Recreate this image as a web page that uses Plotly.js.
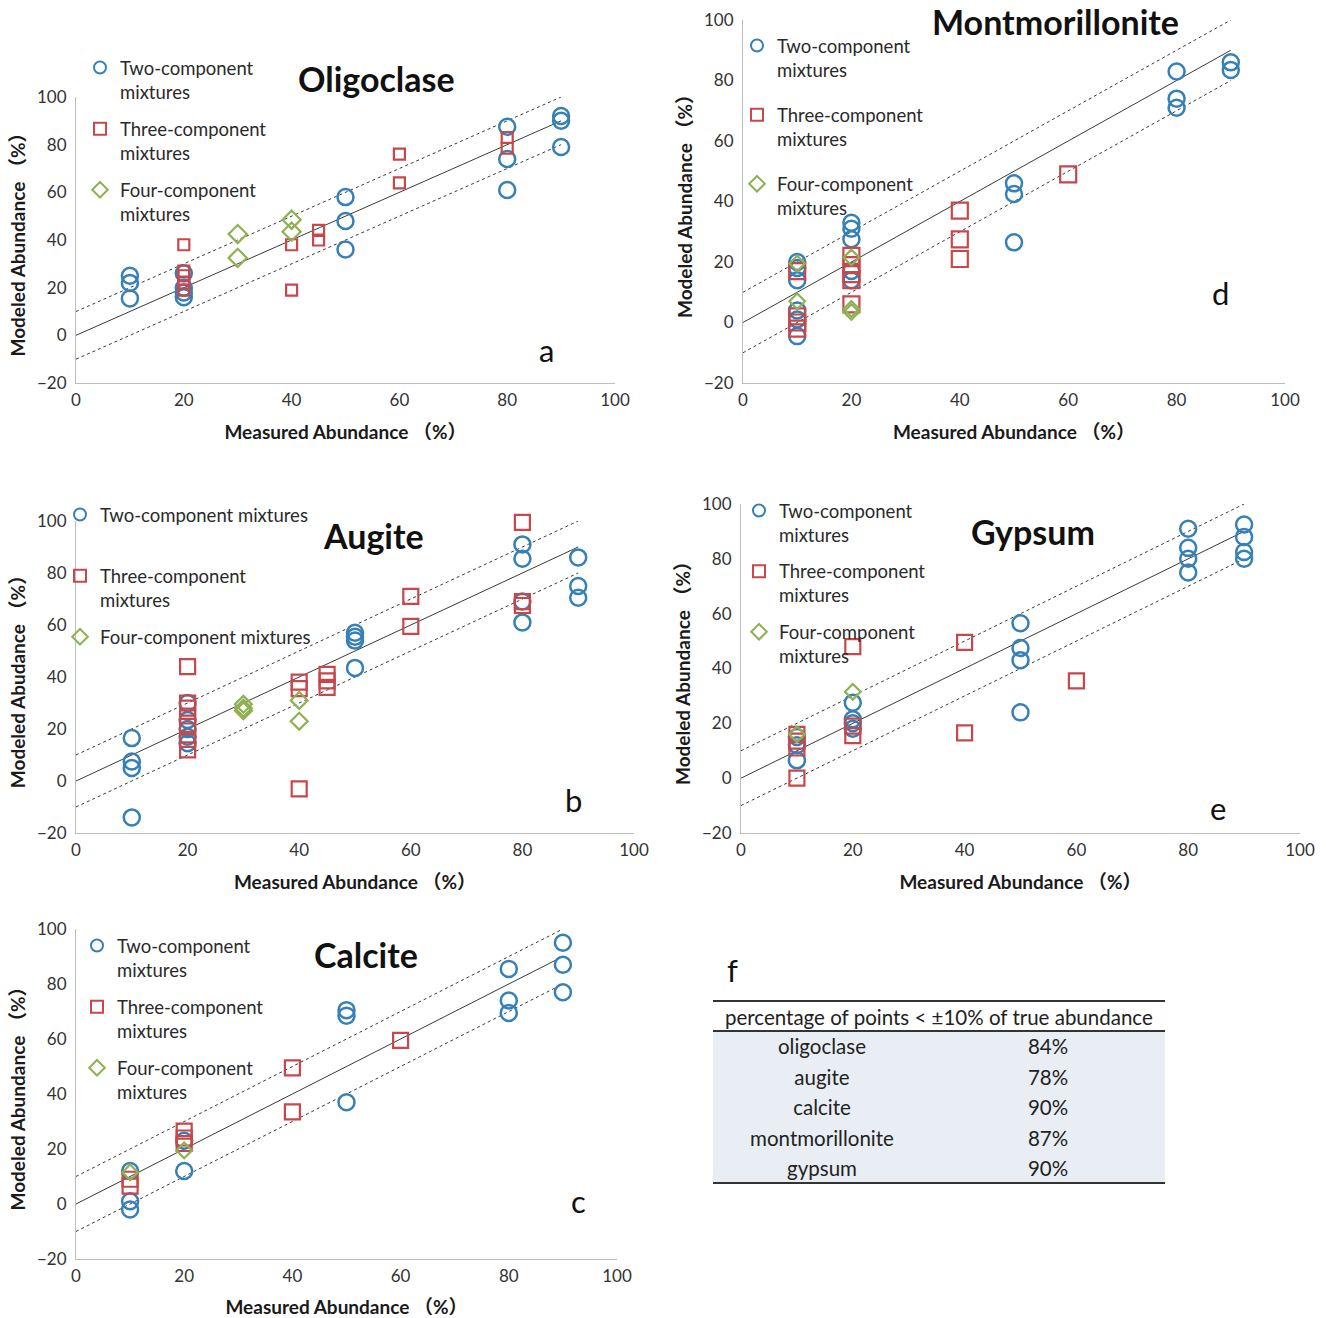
<!DOCTYPE html>
<html><head><meta charset="utf-8">
<script src="https://cdn.plot.ly/plotly-3.0.1.min.js"></script>
<style>body{margin:0;background:#fff}</style>
</head><body><div id="chart" style="width:1326px;height:1318px"></div>
<script>
// ---------------- DATA ----------------
// Oligoclase (a)
const oligoTwoX   = [10,10,10,20,20,20,20,50,50,50,80,80,80,90,90,90];
const oligoTwoY   = [25,22,15.5,26,20,18,16,58,48,36,87.5,74,61,92,90,79];
const oligoThreeX = [20,20,20,20,20,40,40,45,45,60,60,80,80];
const oligoThreeY = [38,27,25,22,19,38,19,44,40,76,64,83,78.5];
const oligoFourX  = [30,30,40,40];
const oligoFourY  = [42.5,32.5,48.5,43.5];
// Montmorillonite (d)
const montTwoX   = [10,10,10,10,10,10,20,20,20,20,20,50,50,50,80,80,80,90,90];
const montTwoY   = [20,18,14,4,1,-4.5,33,31,27.5,17,14,46,42.5,26.5,83,74,71,86,83.5];
const montThreeX = [10,10,10,10,20,20,20,20,20,40,40,40,60];
const montThreeY = [17,2,0,-2,22,19,16,14,6,37,27.5,21,49];
const montFourX  = [10,10,20,20,20];
const montFourY  = [19.5,7,21.5,4.5,3.5];
// Augite (b)
const augTwoX   = [10,10,10,10,20,20,20,20,20,50,50,50,50,80,80,80,80,90,90,90];
const augTwoY   = [16.5,7.5,5,-14,30,23.5,20,17,14.5,57,55.5,54,43.5,91,85.5,69,61,86,75,70.5];
const augThreeX = [20,20,20,20,20,20,20,40,40,40,45,45,45,60,60,80,80,80];
const augThreeY = [44,30,28,25,21,16,12,38,35.5,-3,41,38.5,36,71,59.5,99.5,69,67.5];
const augFourX  = [30,30,30,40,40];
const augFourY  = [29.5,28,27,31,23];
// Gypsum (e)
const gypTwoX   = [10,10,10,20,20,20,20,50,50,50,50,80,80,80,80,90,90,90,90];
const gypTwoY   = [15,12,6.5,27.5,21.5,20,18,56.5,47.5,43,24,91,84,80,75,92.5,88,82.5,80];
const gypThreeX = [10,10,10,10,20,20,20,40,40,60];
const gypThreeY = [16,13.5,11,0,48,19,15.5,49.5,16.5,35.5];
const gypFourX  = [10,20];
const gypFourY  = [16,31.5];
// Calcite (c)
const calTwoX   = [10,10,10,20,20,50,50,50,80,80,80,90,90,90];
const calTwoY   = [12,1,-2,23,12,70.5,68.5,37,85.5,74,69.5,95,87,77];
const calThreeX = [10,10,20,20,20,40,40,60];
const calThreeY = [9,6.5,26.5,24,22,49.5,33.5,59.5];
const calFourX  = [10,20];
const calFourY  = [11.5,19.5];
// 1:1 line and ±10% band
const refLineX = [0, 90];
const bandOffsets = [0, 10, -10];
// axis ticks
const xTicks = [0,20,40,60,80,100];
const yTicks = [-20,0,20,40,60,80,100];
// table f
const tableTitle = 'percentage of points < ±10% of true abundance';
const minerals = ['oligoclase','augite','calcite','montmorillonite','gypsum'];
const percents = ['84%','78%','90%','87%','90%'];

// ---------------- LAYOUT ----------------
const W = 1326, H = 1318;
const px = v => v / W;
const py = v => 1 - v / H;
const FONT = 'Lato, "Noto Sans CJK SC", sans-serif';
const BLUE = '#3580b8', RED = '#c8474b', GREEN = '#8fb153';

const wrapped = ['Two-component<br>mixtures','Three-component<br>mixtures','Four-component<br>mixtures'];
const panels = [
  {name:'Oligoclase', letter:'a', box:[76,615,97,383], ytitle:'Modeled Abundance （%）',
   data:[[oligoTwoX,oligoTwoY],[oligoThreeX,oligoThreeY],[oligoFourX,oligoFourY]],
   names:wrapped, sq:11, dm:14, title:[376,78], let:[546,350], leg:[120,68], gap:10},
  {name:'Montmorillonite', letter:'d', box:[743,1285,20,383], ytitle:'Modeled Abundance （%）',
   data:[[montTwoX,montTwoY],[montThreeX,montThreeY],[montFourX,montFourY]],
   names:wrapped, sq:16, dm:12, title:[1055,22], let:[1220,293], leg:[777,46], gap:18},
  {name:'Augite', letter:'b', box:[76,634,521,833], ytitle:'Modeled Abudance （%）',
   data:[[augTwoX,augTwoY],[augThreeX,augThreeY],[augFourX,augFourY]],
   names:['Two-component mixtures<br> ','Three-component<br>mixtures','Four-component mixtures'],
   sq:15, dm:13, title:[373,535], let:[573,800], leg:[100,515], gap:10},
  {name:'Gypsum', letter:'e', box:[741,1300,504,833], ytitle:'Modeled Abundance （%）',
   data:[[gypTwoX,gypTwoY],[gypThreeX,gypThreeY],[gypFourX,gypFourY]],
   names:wrapped, sq:15, dm:12, title:[1033,531], let:[1218,808], leg:[779,511], gap:9.5},
  {name:'Calcite', letter:'c', box:[76,617,929,1259], ytitle:'Modeled Abundance （%）',
   data:[[calTwoX,calTwoY],[calThreeX,calThreeY],[calFourX,calFourY]],
   names:wrapped, sq:15, dm:12, title:[366,954], let:[578,1201], leg:[117,946], gap:10}
];

const traces = [];
const layout = {
  width: W, height: H, margin:{l:0,r:0,t:0,b:0},
  paper_bgcolor:'#fff', plot_bgcolor:'rgba(0,0,0,0)',
  font:{family:FONT, size:17, color:'#2a2a2a'},
  showlegend:true, annotations:[], shapes:[]
};

panels.forEach((p, i) => {
  const k = i === 0 ? '' : String(i+1);
  const xa = 'x'+k, ya = 'y'+k;
  const legName = 'legend' + k;
  const [x0,x1,y0,y1] = p.box;
  layout['xaxis'+k] = {
    domain:[px(x0), px(x1)], anchor:ya, range:[0,100], tickvals:xTicks,
    showgrid:false, zeroline:false, showline:true, linecolor:'#bdbdbd', linewidth:1,
    ticks:'', ticklabelstandoff:2, tickfont:{size:17, color:'#333'},
    title:{text:'<b>Measured Abundance （%）</b>', font:{size:19, color:'#1a1a1a'}, standoff:16}
  };
  layout['yaxis'+k] = {
    domain:[py(y1), py(y0)], anchor:xa, range:[-20,100], tickvals:yTicks,
    showgrid:false, zeroline:false, showline:true, linecolor:'#bdbdbd', linewidth:1,
    ticks:'', ticklabelstandoff:5, tickfont:{size:17, color:'#333'},
    title:{text:'<b>'+p.ytitle+'</b>', font:{size:19, color:'#1a1a1a'}, standoff:6}
  };
  // reference lines
  bandOffsets.forEach((off, j) => {
    traces.push({type:'scatter', mode:'lines', x:refLineX, y:refLineX.map(v => v + off),
      xaxis:xa, yaxis:ya, showlegend:false, hoverinfo:'skip',
      line:{color:'#3a3a3a', width:1, dash: j === 0 ? 'solid' : 'dot'}});
  });
  const styles = [
    {symbol:'circle-open', color:BLUE, size:16, lw:2.5},
    {symbol:'square-open', color:RED, size:p.sq, lw:2.2},
    {symbol:'diamond-open', color:GREEN, size:p.dm, lw:2.2}
  ];
  p.data.forEach((d, j) => {
    const s = styles[j];
    traces.push({type:'scatter', mode:'markers', x:d[0], y:d[1], xaxis:xa, yaxis:ya,
      name:p.names[j], legend:legName, legendgroup:'g'+i+'_'+j, cliponaxis:false,
      marker:{symbol:s.symbol, color:s.color, size:s.size, line:{width:s.lw, color:s.color}}});
  });
  layout[legName] = {x:px(p.leg[0]-40), y:py(p.leg[1]-19), xanchor:'left', yanchor:'top',
    bgcolor:'rgba(0,0,0,0)', font:{size:18.5, color:'#2a2a2a'}, tracegroupgap:p.gap,
    itemsizing:'constant', traceorder:'grouped', valign:'top'};
  layout.annotations.push({xref:'paper', yref:'paper', x:px(p.title[0]), y:py(p.title[1]),
    text:'<b>'+p.name+'</b>', showarrow:false, xanchor:'center', yanchor:'middle',
    font:{size:34, color:'#111'}});
  layout.annotations.push({xref:'paper', yref:'paper', x:px(p.let[0]), y:py(p.let[1]),
    text:p.letter, showarrow:false, xanchor:'center', yanchor:'middle',
    font:{size:31, color:'#111'}});
});

// table f
layout.annotations.push({xref:'paper', yref:'paper', x:px(732), y:py(970), text:'f',
  showarrow:false, xanchor:'center', yanchor:'middle', font:{size:31, color:'#111'}});
layout.annotations.push({xref:'paper', yref:'paper', x:px(939), y:py(1017), text:tableTitle,
  showarrow:false, xanchor:'center', yanchor:'middle', font:{size:20.5, color:'#222'}});
traces.push({type:'table', domain:{x:[px(713), px(1165)], y:[py(1190), py(1001)]},
  columnwidth:[218,234],
  header:{values:['',''], height:30, line:{width:0, color:'#fff'}, fill:{color:'#fff'}},
  cells:{values:[minerals, percents], height:30.4, align:'center',
    fill:{color:'#e9eef4'}, line:{width:0, color:'#e9eef4'},
    font:{family:FONT, size:20.5, color:'#222'}}});
[1001,1031,1183].forEach(y => {
  layout.shapes.push({type:'line', xref:'paper', yref:'paper', x0:px(713), x1:px(1165),
    y0:py(y), y1:py(y), line:{color:'#333', width:2}});
});

Plotly.newPlot('chart', traces, layout, {staticPlot:true});
</script></body></html>
